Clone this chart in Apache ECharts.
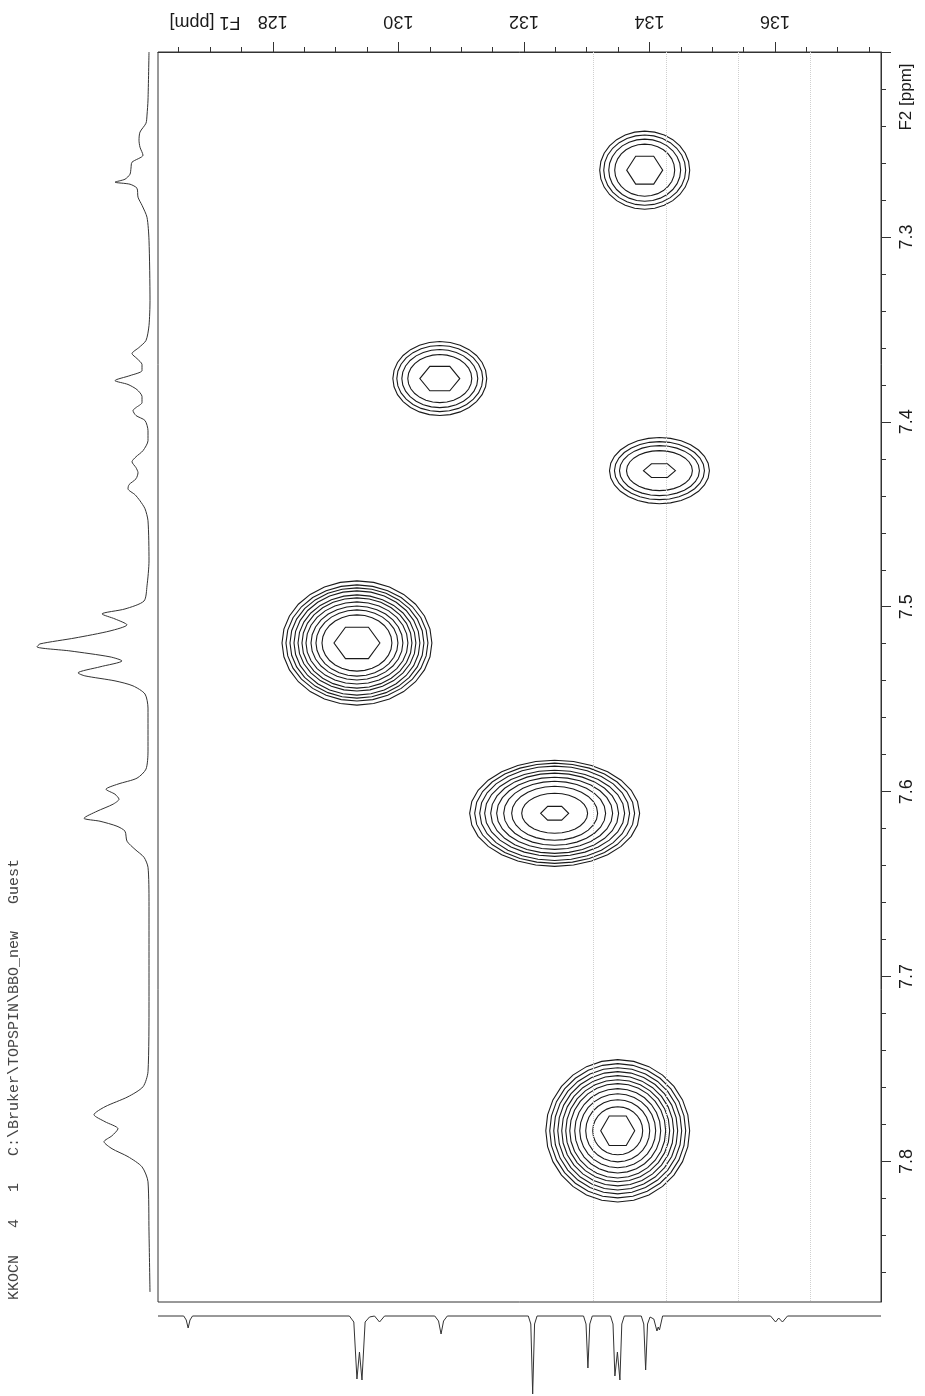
<!DOCTYPE html>
<html><head><meta charset="utf-8">
<script src="https://cdn.jsdelivr.net/npm/echarts@6/dist/echarts.min.js"></script>
<style>html,body{margin:0;padding:0;background:#fff}#c{width:925px;height:1396px}</style>
</head><body><div id="c"></div>
<script>
// ---- axes ----
const f1Min = 126.17, f1Max = 137.69;      // 13C (F1) ppm, left -> right
const f2Min = 7.2, f2Max = 7.876;          // 1H (F2) ppm, top -> bottom
const f1MinorTicks = [126.5,127,127.5,128,128.5,129,129.5,130,130.5,131,131.5,132,132.5,133,133.5,134,134.5,135,135.5,136,136.5,137,137.5];
const f1MajorTicks = [128,130,132,134,136];
const f2MinorTicks = [7.22,7.24,7.26,7.28,7.32,7.34,7.36,7.38,7.42,7.44,7.46,7.48,7.52,7.54,7.56,7.58,7.62,7.64,7.66,7.68,7.72,7.74,7.76,7.78,7.82,7.84,7.86];
const f2MajorTicks = [7.2,7.3,7.4,7.5,7.6,7.7,7.8];
const f2Labels = [7.3,7.4,7.5,7.6,7.7,7.8];

// ---- cross peaks (centre F1, centre F2) and contour ring half-widths (ppm) ----
const peakF1 = [133.925, 130.66, 134.16, 129.34, 132.49, 133.495];
const peakF2 = [7.2639, 7.3766, 7.4264, 7.5196, 7.6117, 7.7834];
const ringRx = [
  [0.717,0.653,0.573,0.478,0.287],
  [0.748,0.685,0.605,0.510,0.318],
  [0.796,0.717,0.637,0.525,0.255],
  [1.194,1.131,1.067,1.003,0.939,0.876,0.812,0.732,0.653,0.557,0.366],
  [1.354,1.274,1.194,1.115,1.019,0.924,0.812,0.685,0.525,0.223],
  [1.146,1.083,1.019,0.955,0.892,0.828,0.764,0.685,0.605,0.510,0.398,0.271]
];
const ringRy = [
  [0.0211,0.0190,0.0168,0.0141,0.0087],
  [0.0200,0.0179,0.0157,0.0130,0.0076],
  [0.0179,0.0157,0.0135,0.0108,0.0043],
  [0.0336,0.0314,0.0298,0.0282,0.0260,0.0244,0.0222,0.0200,0.0179,0.0152,0.0098],
  [0.0287,0.0271,0.0255,0.0233,0.0217,0.0195,0.0173,0.0146,0.0108,0.0043],
  [0.0385,0.0363,0.0341,0.0320,0.0298,0.0276,0.0255,0.0228,0.0200,0.0168,0.0130,0.0092]
];
const dottedF1 = [133.11, 134.27, 135.41, 136.57];

// ---- 1H projection (left): F2 ppm and intensity ----
const h1F2 = [7.2000,7.2260,7.2341,7.2385,7.2433,7.2477,7.2515,7.2558,7.2596,7.2628,7.2661,7.2688,7.2704,7.2715,7.2737,7.2785,7.2829,7.2894,7.3018,7.3343,
  7.3479,7.3560,7.3598,7.3631,7.3658,7.3690,7.3723,7.3750,7.3777,7.3798,7.3826,7.3863,7.3896,7.3923,7.3939,7.3966,7.3993,7.4048,7.4102,7.4156,
  7.4189,7.4216,7.4248,7.4275,7.4308,7.4340,7.4362,7.4394,7.4427,7.4470,7.4535,7.4752,7.4887,7.4969,7.5012,7.5039,7.5066,7.5098,7.5131,7.5169,
  7.5201,7.5217,7.5239,7.5271,7.5293,7.5325,7.5358,7.5374,7.5401,7.5428,7.5472,7.5548,7.5781,7.5878,7.5927,7.5959,7.5987,7.6014,7.6041,7.6068,
  7.6106,7.6144,7.6160,7.6187,7.6214,7.6268,7.6312,7.6355,7.6409,7.6594,7.7135,7.7514,7.7596,7.7650,7.7704,7.7747,7.7785,7.7823,7.7861,7.7893,
  7.7931,7.7974,7.8029,7.8110,7.8381,7.8706];
const h1Int = [1,2,3,4,10,11,10,7,18,19,20,25,35,20,13,12,8,3,1,0,
  1,4,11,18,13,8,8,20,35,22,13,8,8,14,17,14,5,2,2,7,
  14,18,14,12,14,21,22,15,10,5,2,1,3,6,25,48,35,23,40,75,
  110,113,80,40,28,50,72,65,35,17,5,2,2,4,13,32,44,35,31,37,
  53,66,50,33,25,23,15,6,2,1,1,2,7,22,45,56,45,32,38,46,
  38,22,8,2,1,0];

// ---- 13C projection (bottom): F1 ppm and intensity (drawn downward) ----
const c13F1 = [126.17,126.58,126.62,126.65,126.68,126.72,129.22,129.29,129.34,129.38,129.42,129.47,129.54,129.62,129.70,129.78,
  130.58,130.64,130.68,130.72,130.78,132.07,132.11,132.14,132.17,132.21,132.95,132.99,133.02,133.05,133.09,
  133.38,133.42,133.45,133.49,133.53,133.56,133.60,133.87,133.91,133.94,133.97,134.01,134.07,134.12,134.14,134.16,134.21,
  135.93,136.01,136.06,136.12,136.20,137.69];
const c13Int = [0,0,4,12,4,0,0,6,63,36,64,6,1,0,6,0,
  0,5,18,5,0,0,8,78,8,0,0,8,52,8,0,
  0,8,60,36,64,8,0,0,8,54,8,1,3,15,11,14,0,
  0,6,2,6,0,0];

const headerText = 'KKOCN   4   1   C:\\Bruker\\TOPSPIN\\BBO_new   Guest';

// ---- build series data ----
const rings = [];
peakF1.forEach((f1, i) => {
  ringRx[i].forEach((rx, j) => {
    rings.push([f1, peakF2[i], rx, ringRy[i][j], j === ringRx[i].length - 1 ? 1 : 0]);
  });
});
const h1Data = h1F2.map((v, i) => [h1Int[i], v]);
const c13Data = c13F1.map((v, i) => [v, c13Int[i]]);

const ink = '#1a1a1a';
const labelFont = {color: ink, fontSize: 18, fontFamily: 'Liberation Sans'};

const chart = echarts.init(document.getElementById('c'), null, {renderer: 'canvas'});
chart.setOption({
  backgroundColor: '#fff',
  animation: false,
  grid: [
    {left: 158, top: 52, width: 723, height: 1250, show: true, borderColor: '#333', borderWidth: 1, backgroundColor: 'transparent'},
    {left: 18, top: 52, width: 132, height: 1250},
    {left: 158, top: 1305, width: 723, height: 91}
  ],
  xAxis: [
    {gridIndex: 0, type: 'value', position: 'top', min: f1Min, max: f1Max,
      axisLine: {show: true, onZero: false, lineStyle: {color: '#333'}},
      axisTick: {show: true, inside: false, length: 5, customValues: f1MinorTicks, lineStyle: {color: '#333'}},
      axisLabel: {show: false}, splitLine: {show: false}},
    {gridIndex: 0, type: 'value', position: 'top', min: f1Min, max: f1Max,
      axisLine: {show: false, onZero: false},
      axisTick: {show: true, inside: false, length: 10, customValues: f1MajorTicks, lineStyle: {color: '#333'}},
      axisLabel: Object.assign({show: true, rotate: 180, margin: 22, customValues: f1MajorTicks, formatter: v => String(v)}, labelFont),
      splitLine: {show: false}},
    {gridIndex: 1, type: 'value', inverse: true, min: 0, max: 132, show: false},
    {gridIndex: 2, type: 'value', min: f1Min, max: f1Max, show: false}
  ],
  yAxis: [
    {gridIndex: 0, type: 'value', position: 'right', inverse: true, min: f2Min, max: f2Max,
      axisLine: {show: true, onZero: false, lineStyle: {color: '#333'}},
      axisTick: {show: true, inside: false, length: 5, customValues: f2MinorTicks, lineStyle: {color: '#333'}},
      axisLabel: {show: false}, splitLine: {show: false}},
    {gridIndex: 0, type: 'value', position: 'right', inverse: true, min: f2Min, max: f2Max,
      axisLine: {show: false, onZero: false},
      axisTick: {show: true, inside: false, length: 10, customValues: f2MajorTicks, lineStyle: {color: '#333'}},
      axisLabel: Object.assign({show: true, rotate: 90, margin: 17, customValues: f2Labels, formatter: v => v.toFixed(1)}, labelFont),
      splitLine: {show: false}},
    {gridIndex: 1, type: 'value', inverse: true, min: f2Min, max: f2Max, show: false},
    {gridIndex: 2, type: 'value', inverse: true, min: -11, max: 80, show: false}
  ],
  graphic: [
    {type: 'text', x: 205, y: 22, rotation: Math.PI,
      style: {text: 'F1 [ppm]', fill: ink, font: '18px "Liberation Sans"', align: 'center', verticalAlign: 'middle'}},
    {type: 'text', x: 906, y: 97, rotation: Math.PI / 2,
      style: {text: 'F2 [ppm]', fill: ink, font: '17px "Liberation Sans"', align: 'center', verticalAlign: 'middle'}},
    {type: 'text', x: 14, y: 1300, rotation: Math.PI / 2,
      style: {text: headerText, fill: '#444', font: '15px "Liberation Mono"', align: 'left', verticalAlign: 'middle'}}
  ],
  series: [
    {type: 'custom', xAxisIndex: 1, yAxisIndex: 1, data: rings, silent: true,
      renderItem: function (params, api) {
        const c = api.coord([api.value(0), api.value(1)]);
        const s = api.size([api.value(2), api.value(3)]);
        const rx = Math.abs(s[0]), ry = Math.abs(s[1]);
        const n = api.value(4) ? 6 : 28;
        const pts = [];
        for (let k = 0; k < n; k++) {
          const a = 2 * Math.PI * k / n;
          pts.push([c[0] + rx * Math.cos(a), c[1] + ry * Math.sin(a)]);
        }
        return {type: 'polygon', shape: {points: pts}, style: {fill: 'none', stroke: ink, lineWidth: 1.1}};
      },
      markLine: {silent: true, symbol: 'none', label: {show: false},
        lineStyle: {type: 'dotted', color: '#cfcfcf', width: 1},
        data: dottedF1.map(v => ({xAxis: v}))}
    },
    {type: 'line', xAxisIndex: 2, yAxisIndex: 2, data: h1Data, symbol: 'none', smooth: 0.25,
      lineStyle: {color: '#333', width: 1}, silent: true},
    {type: 'line', xAxisIndex: 3, yAxisIndex: 3, data: c13Data, symbol: 'none', smooth: false,
      lineStyle: {color: '#333', width: 1}, silent: true}
  ]
});
</script></body></html>
